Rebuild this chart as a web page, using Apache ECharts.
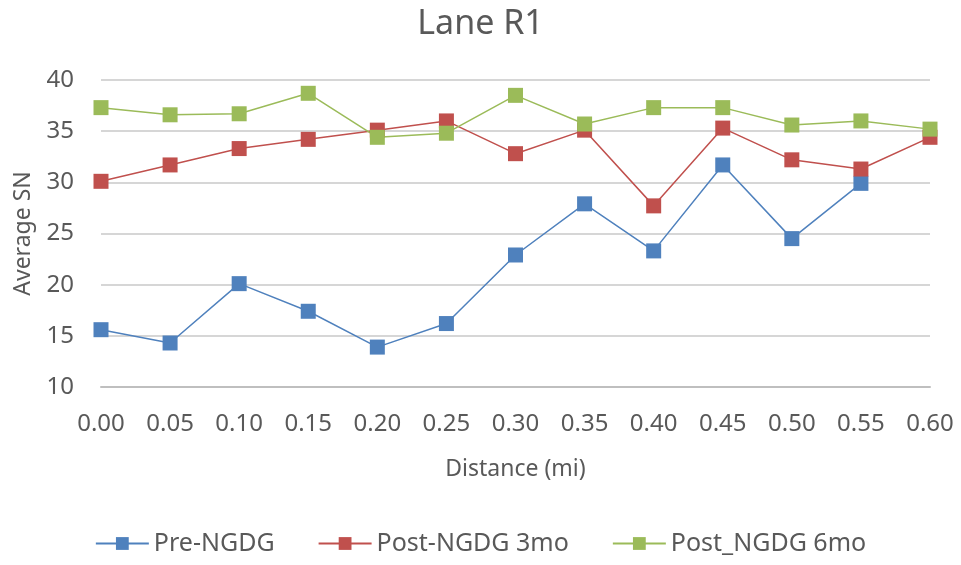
<!DOCTYPE html>
<html><head><meta charset="utf-8">
<script src="https://cdn.jsdelivr.net/npm/echarts@6/dist/echarts.min.js"></script>
<style>html,body{margin:0;padding:0;background:#fff}#c{width:961px;height:565px}</style>
</head><body><div id="c"></div>
<script>
const categories = ['0.00','0.05','0.10','0.15','0.20','0.25','0.30','0.35','0.40','0.45','0.50','0.55','0.60'];
const preNGDG = [15.6, 14.3, 20.1, 17.4, 13.9, 16.2, 22.9, 27.9, 23.3, 31.7, 24.5, 29.9, null];
const post3mo = [30.1, 31.7, 33.3, 34.2, 35.1, 36.0, 32.8, 35.1, 27.7, 35.3, 32.2, 31.3, 34.4];
const post6mo = [37.3, 36.6, 36.7, 38.7, 34.4, 34.8, 38.5, 35.7, 37.3, 37.3, 35.6, 36.0, 35.2];
const yTicks = {min: 10, max: 40, interval: 5};

const font = 'Noto Sans';
const txt = '#595959';
const chart = echarts.init(document.getElementById('c'), null, {renderer: 'canvas'});
function s(name, data, color) {
  return {
    name, type: 'line', data, symbol: 'rect', symbolSize: 15,
    lineStyle: {color, width: 1.5}, itemStyle: {color},
    connectNulls: false, animation: false
  };
}
chart.setOption({
  animation: false,
  title: {text: 'Lane R1', left: 'center', top: 2, textStyle: {fontFamily: font, fontSize: 34, fontWeight: 'normal', color: txt}},
  grid: {left: 101, right: 31, top: 80, bottom: 178, containLabel: false, outerBoundsMode: 'none'},
  xAxis: {
    type: 'category', data: categories, boundaryGap: false,
    name: 'Distance (mi)', nameLocation: 'middle', nameGap: 71,
    nameTextStyle: {fontFamily: font, fontSize: 23, color: txt},
    axisLine: {lineStyle: {color: '#BFBFBF', width: 2}},
    axisTick: {show: false},
    axisLabel: {fontFamily: font, fontSize: 24, color: txt, margin: 25},
    splitLine: {show: false}
  },
  yAxis: {
    type: 'value', min: yTicks.min, max: yTicks.max, interval: yTicks.interval,
    name: 'Average SN', nameLocation: 'middle', nameGap: 66, nameRotate: 90,
    nameTextStyle: {fontFamily: font, fontSize: 23, color: txt},
    axisLine: {show: false}, axisTick: {show: false},
    axisLabel: {fontFamily: font, fontSize: 24, color: txt, margin: 27},
    splitLine: {lineStyle: {color: '#C8C8C8', width: 1.5}}
  },
  legend: {
    bottom: 4, left: 'center', itemWidth: 53, itemHeight: 16, itemGap: 43,
    textStyle: {fontFamily: font, fontSize: 25, color: txt},
    data: ['Pre-NGDG', 'Post-NGDG 3mo', 'Post_NGDG 6mo']
  },
  series: [
    s('Pre-NGDG', preNGDG, '#4F81BD'),
    s('Post-NGDG 3mo', post3mo, '#C0504D'),
    s('Post_NGDG 6mo', post6mo, '#9BBB59')
  ]
});
</script></body></html>
